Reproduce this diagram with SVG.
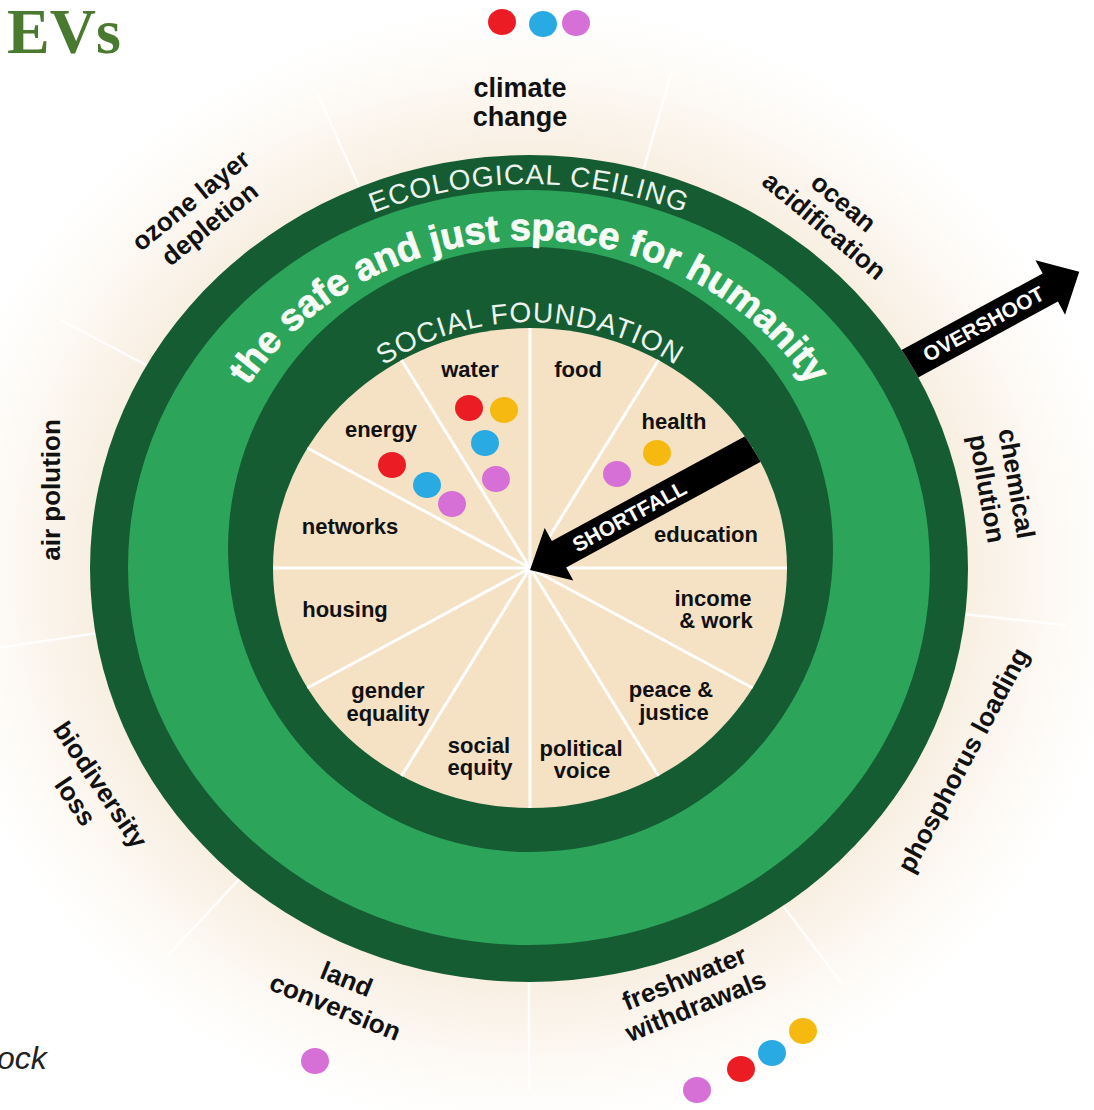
<svg xmlns="http://www.w3.org/2000/svg" width="1094" height="1110" viewBox="0 0 1094 1110">
  <defs>
    <radialGradient id="halo" cx="0.5" cy="0.5" r="0.5">
      <stop offset="0" stop-color="#f7ecdd"/>
      <stop offset="0.72" stop-color="#f8eee1"/>
      <stop offset="0.82" stop-color="#fbf5ed"/>
      <stop offset="0.92" stop-color="#fefcf9"/>
      <stop offset="1" stop-color="#ffffff"/>
    </radialGradient>
    <clipPath id="beigeClip"><ellipse cx="530" cy="568" rx="257" ry="240"/></clipPath>
    <mask id="outsideRing" maskUnits="userSpaceOnUse" x="0" y="0" width="1094" height="1110">
      <rect width="1094" height="1110" fill="#fff"/>
      <ellipse cx="529" cy="568.5" rx="439" ry="413.5" fill="#000"/>
    </mask>
    <path id="arcCeiling" d="M127.2,501.3 A408,384 0 0 1 930.8,501.3"/>
    <path id="arcSpace" d="M199.1,504.4 A335,320 0 0 1 858.9,504.4"/>
    <path id="arcFoundation" d="M278.9,520.3 A255,240 0 0 1 781.1,520.3"/>
  </defs>
  <style>
    .lbl { font-family: "Liberation Sans", Arial, sans-serif; font-weight: 700; fill: #111; text-anchor: middle; }
    .outer { font-size: 26px; }
    .inner { font-size: 22px; }
    .band { font-family: "Liberation Sans", Arial, sans-serif; fill: #ecf4ed; font-size: 28px; }
    .space { font-family: "Liberation Sans", Arial, sans-serif; font-weight: 700; fill: #f6fbf6; stroke: #f6fbf6; stroke-width: 0.8; font-size: 38px; }
    .arrowtxt { font-family: "Liberation Sans", Arial, sans-serif; font-weight: 700; fill: #fff; font-size: 21px; text-anchor: middle; }
    .spoke-out { stroke: #ffffff; stroke-width: 2.5; stroke-opacity: 0.85; }
    .spoke-in { stroke: #ffffff; stroke-width: 3; }
    .dark { fill: #165c33; }
    .green { fill: #2ca55b; }
    .red { fill: #ec1c24; }
    .blue { fill: #2aaae2; }
    .violet { fill: #d66fd6; }
    .yellow { fill: #f6b90f; }
  </style>

  <!-- background and cream halo -->
  <rect width="1094" height="1110" fill="#ffffff"/>
  <ellipse cx="529" cy="568.5" rx="600" ry="565" fill="url(#halo)"/>

  <!-- boundaries between the nine ceiling sectors -->
  <g id="ceiling-dividers">
    <line class="spoke-out" x1="359.2" y1="187.2" x2="317.4" y2="93.2"/>
    <line class="spoke-out" x1="643.6" y1="169.4" x2="672.5" y2="68.8"/>
    <line class="spoke-out" x1="965.1" y1="614.3" x2="1066" y2="625"/>
    <line class="spoke-out" x1="783" y1="905.7" x2="842" y2="983.8"/>
    <line class="spoke-out" x1="529" y1="982" x2="529" y2="1090"/>
    <line class="spoke-out" x1="239.2" y1="879.1" x2="167.5" y2="956"/>
    <line class="spoke-out" x1="96.8" y1="633.2" x2="-10" y2="649"/>
    <line class="spoke-out" x1="146.8" y1="365.5" x2="61" y2="320"/>
  </g>

  <!-- doughnut rings -->
  <g id="rings">
    <ellipse class="dark" cx="529" cy="568.5" rx="439" ry="413.5"/>
    <ellipse class="green" cx="529" cy="567.5" rx="401" ry="377.5"/>
    <ellipse class="dark" cx="530.5" cy="549.5" rx="302.5" ry="302.5"/>
    <ellipse cx="530" cy="568" rx="257" ry="240" fill="#f5e2c5"/>
  </g>

  <!-- twelve social foundation sectors -->
  <g id="foundation-dividers">
    <line class="spoke-in" x1="530" y1="568" x2="530" y2="328"/>
    <line class="spoke-in" x1="530" y1="568" x2="401.5" y2="360"/>
    <line class="spoke-in" x1="530" y1="568" x2="307.4" y2="448"/>
    <line class="spoke-in" x1="530" y1="568" x2="273" y2="568"/>
    <line class="spoke-in" x1="530" y1="568" x2="307.4" y2="688"/>
    <line class="spoke-in" x1="530" y1="568" x2="401.5" y2="776"/>
    <line class="spoke-in" x1="530" y1="568" x2="530" y2="808"/>
    <line class="spoke-in" x1="530" y1="568" x2="658.5" y2="776"/>
    <line class="spoke-in" x1="530" y1="568" x2="752.6" y2="688"/>
    <line class="spoke-in" x1="530" y1="568" x2="787" y2="568"/>
    <line class="spoke-in" x1="530" y1="568" x2="752.6" y2="448"/>
    <line class="spoke-in" x1="530" y1="568" x2="658.5" y2="360"/>
  </g>

  <!-- ring titles -->
  <g id="ring-titles">
    <text class="band" letter-spacing="1"><textPath href="#arcCeiling" startOffset="50%" text-anchor="middle">ECOLOGICAL CEILING</textPath></text>
    <text class="space"><textPath href="#arcSpace" startOffset="50%" text-anchor="middle">the safe and just space for humanity</textPath></text>
    <text class="band" letter-spacing="1"><textPath href="#arcFoundation" startOffset="50%" text-anchor="middle">SOCIAL FOUNDATION</textPath></text>
  </g>

  <!-- overshoot and shortfall arrows -->
  <g id="arrows">
    <g mask="url(#outsideRing)">
      <g transform="translate(530,570) rotate(-28.5)">
        <polygon points="400,-16 592,-16 592,-31 625,0 592,31 592,16 400,16" fill="#000"/>
      </g>
    </g>
    <g transform="translate(530,570) rotate(-28.5)">
      <text class="arrowtxt" x="516" y="7.5">OVERSHOOT</text>
    </g>
    <g clip-path="url(#beigeClip)">
      <g transform="translate(530,570) rotate(-28.5)">
        <polygon points="0,0 33,-30 33,-15 280,-15 280,15 33,15 33,30" fill="#000"/>
        <text class="arrowtxt" x="113" y="7.5">SHORTFALL</text>
      </g>
    </g>
  </g>

  <!-- ecological ceiling labels -->
  <g id="climate-change" class="lbl outer">
    <text x="520" y="97" font-size="27">climate</text>
    <text x="520" y="126" font-size="27">change</text>
    <ellipse class="red" cx="502" cy="22" rx="14" ry="13"/>
    <ellipse class="blue" cx="543" cy="24" rx="14" ry="13"/>
    <ellipse class="violet" cx="576" cy="23" rx="14" ry="13"/>
  </g>
  <g id="ocean-acidification" class="lbl outer" transform="translate(834,214) rotate(40)">
    <text x="0" y="-6">ocean</text>
    <text x="0" y="24">acidification</text>
  </g>
  <g id="chemical-pollution" class="lbl outer" transform="translate(1002,486) rotate(80)">
    <text x="0" y="-6">chemical</text>
    <text x="0" y="24">pollution</text>
  </g>
  <g id="phosphorus-loading" class="lbl outer" transform="translate(963,760) rotate(-62)">
    <text x="0" y="9">phosphorus loading</text>
  </g>
  <g id="freshwater-withdrawals" class="lbl outer">
    <g transform="translate(690,992) rotate(-22)">
      <text x="0" y="-6">freshwater</text>
      <text x="0" y="24">withdrawals</text>
    </g>
    <ellipse class="violet" cx="697" cy="1090" rx="14" ry="13"/>
    <ellipse class="red" cx="741" cy="1069" rx="14" ry="13"/>
    <ellipse class="blue" cx="772" cy="1053" rx="14" ry="13"/>
    <ellipse class="yellow" cx="803" cy="1031" rx="14" ry="13"/>
  </g>
  <g id="land-conversion" class="lbl outer">
    <g transform="translate(341,993) rotate(22)">
      <text x="0" y="-6">land</text>
      <text x="0" y="24">conversion</text>
    </g>
    <ellipse class="violet" cx="315" cy="1061" rx="14" ry="13"/>
  </g>
  <g id="biodiversity-loss" class="lbl outer" transform="translate(88,793) rotate(56)">
    <text x="0" y="-6">biodiversity</text>
    <text x="0" y="24">loss</text>
  </g>
  <g id="air-polution" class="lbl outer" transform="translate(51,490) rotate(-90)">
    <text x="0" y="9">air polution</text>
  </g>
  <g id="ozone-layer-depletion" class="lbl outer" transform="translate(200,212) rotate(-39)">
    <text x="0" y="-6">ozone layer</text>
    <text x="0" y="24">depletion</text>
  </g>

  <!-- social foundation labels -->
  <g id="water" class="lbl inner">
    <text x="470" y="377">water</text>
    <ellipse class="red" cx="469" cy="408" rx="14" ry="13"/>
    <ellipse class="yellow" cx="504" cy="410" rx="14" ry="13"/>
    <ellipse class="blue" cx="485" cy="443" rx="14" ry="13"/>
    <ellipse class="violet" cx="496" cy="479" rx="14" ry="13"/>
  </g>
  <g id="food" class="lbl inner"><text x="578" y="377">food</text></g>
  <g id="health" class="lbl inner">
    <text x="674" y="429">health</text>
    <ellipse class="yellow" cx="657" cy="453" rx="14" ry="13"/>
    <ellipse class="violet" cx="617" cy="474" rx="14" ry="13"/>
  </g>
  <g id="education" class="lbl inner"><text x="706" y="542">education</text></g>
  <g id="income-work" class="lbl inner">
    <text x="713" y="606">income</text>
    <text x="716" y="628">&amp; work</text>
  </g>
  <g id="peace-justice" class="lbl inner">
    <text x="671" y="697">peace &amp;</text>
    <text x="674" y="720">justice</text>
  </g>
  <g id="political-voice" class="lbl inner">
    <text x="581" y="756">political</text>
    <text x="582" y="778">voice</text>
  </g>
  <g id="social-equity" class="lbl inner">
    <text x="479" y="753">social</text>
    <text x="480" y="775">equity</text>
  </g>
  <g id="gender-equality" class="lbl inner">
    <text x="388" y="698">gender</text>
    <text x="388" y="721">equality</text>
  </g>
  <g id="housing" class="lbl inner"><text x="345" y="617">housing</text></g>
  <g id="networks" class="lbl inner"><text x="350" y="534">networks</text></g>
  <g id="energy" class="lbl inner">
    <text x="381" y="437">energy</text>
    <ellipse class="red" cx="392" cy="465" rx="14" ry="13"/>
    <ellipse class="blue" cx="427" cy="485" rx="14" ry="13"/>
    <ellipse class="violet" cx="452" cy="504" rx="14" ry="13"/>
  </g>

  <!-- heading and caption fragment -->
  <text x="7" y="53" font-family="'Liberation Serif', 'Times New Roman', serif" font-weight="700" font-size="64" fill="#4a7a2f">EVs</text>
  <text x="-3" y="1069" font-family="'Liberation Sans', Arial, sans-serif" font-style="italic" font-size="32" fill="#222">ock</text>
</svg>
